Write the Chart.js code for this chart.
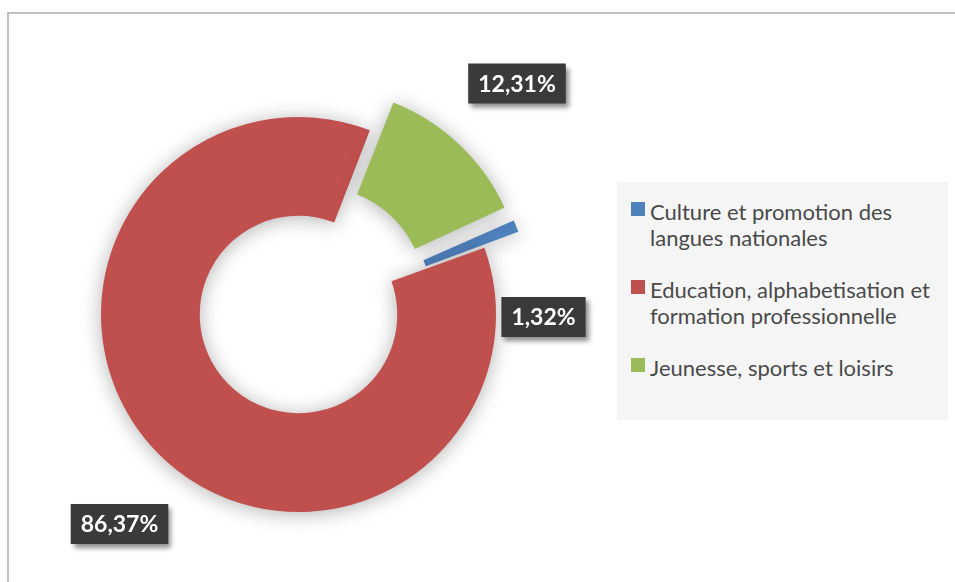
<!DOCTYPE html>
<html lang="fr">
<head>
<meta charset="utf-8">
<title>Répartition par domaine</title>
<script src="https://cdn.jsdelivr.net/npm/chart.js@4.4.1/dist/chart.umd.min.js"></script>
<style>
  html, body { margin: 0; padding: 0; background: #fff; overflow: hidden; }
  #wrap  { position: relative; width: 955px; height: 582px; overflow: hidden; }
  #frame { position: absolute; left: 7px; top: 12px; width: 1200px; height: 800px;
           border-top: 2px solid #c0c0c0; border-left: 2px solid #c0c0c0; }
  #pie   { position: absolute; left: 0; top: 0; }
  #legend {
    position: absolute; left: 617px; top: 182px; width: 331px; height: 238px;
    box-sizing: border-box; padding: 17px 0 0 33px; background: #f5f5f5;
    font-family: Lato, "Open Sans", sans-serif; font-size: 22px; color: #4a4a4a;
  }
  .lg-item { position: relative; line-height: 26px; margin-bottom: 26px; white-space: nowrap; }
  .lg-box  { position: absolute; left: -19px; top: 3px; width: 14px; height: 14px; }
</style>
</head>
<body>
<div id="wrap">
  <div id="frame"></div>
  <canvas id="pie" width="955" height="582"></canvas>
  <div id="legend"></div>
</div>

<script>
// ── Data ──
const categories = [
  ['Culture et promotion des', 'langues nationales'],
  ['Education, alphabetisation et', 'formation professionnelle'],
  ['Jeunesse, sports et loisirs'],
];
const shares      = [1.32, 86.37, 12.31];
const sliceColors = ['#4f81bd', '#c0504d', '#9bbb59'];

// ── Layout ──
const explode      = [78, 0, 112];                              // Chart.js arc offset per slice
const labelOffsets = [[245, 2.5], [-179, 209.5], [218.5, -231]]; // box centre, from ring centre

const fmt = v => v.toFixed(2).replace('.', ',') + '%';

// soft shadow under the ring
const ringShadow = {
  id: 'ringShadow',
  beforeDatasetsDraw(chart) {
    const ctx = chart.ctx;
    ctx.save();
    ctx.shadowColor   = 'rgba(0,0,0,0.30)';
    ctx.shadowBlur    = 20;
    ctx.shadowOffsetY = 2;
  },
  afterDatasetsDraw(chart) { chart.ctx.restore(); },
};

// dark value boxes
const valueBoxes = {
  id: 'valueBoxes',
  afterDraw(chart) {
    const ctx  = chart.ctx;
    const arcs = chart.getDatasetMeta(0).data;
    ctx.save();
    ctx.font = 'bold 23px Lato, "Open Sans", sans-serif';
    ctx.textAlign    = 'center';
    ctx.textBaseline = 'middle';
    arcs.forEach((arc, i) => {
      const txt = fmt(chart.data.datasets[0].data[i]);
      const cx  = arc.x + labelOffsets[i][0];
      const cy  = arc.y + labelOffsets[i][1];
      const w   = ctx.measureText(txt).width + 20;
      const h   = 40;
      ctx.shadowColor   = 'rgba(0,0,0,0.45)';
      ctx.shadowBlur    = 5;
      ctx.shadowOffsetX = 3;
      ctx.shadowOffsetY = 4;
      ctx.fillStyle = '#3a3a3a';
      ctx.fillRect(cx - w / 2, cy - h / 2, w, h);
      ctx.shadowColor = 'transparent';
      ctx.fillStyle = '#ffffff';
      ctx.fillText(txt, cx, cy + 1);
    });
    ctx.restore();
  },
};

const chart = new Chart(document.getElementById('pie'), {
  type: 'doughnut',
  data: {
    labels: categories,
    datasets: [{
      data: shares,
      backgroundColor: sliceColors,
      borderWidth: 0,
      offset: explode,
      hoverOffset: 0,
    }],
  },
  options: {
    responsive: false,
    animation: false,
    events: [],
    rotation: 65.5,
    radius: 197.5,
    cutout: '50%',
    layout: { padding: { left: 40, right: 398, top: 56, bottom: 9 } },
    plugins: { legend: { display: false }, tooltip: { enabled: false } },
  },
  plugins: [ringShadow, valueBoxes],
});

// ── Legend ──
document.getElementById('legend').innerHTML = chart.data.labels.map((lab, i) => `
  <div class="lg-item">
    <span class="lg-box" style="background:${sliceColors[i]}"></span>${lab.join('<br>')}
  </div>`).join('');
</script>
</body>
</html>
